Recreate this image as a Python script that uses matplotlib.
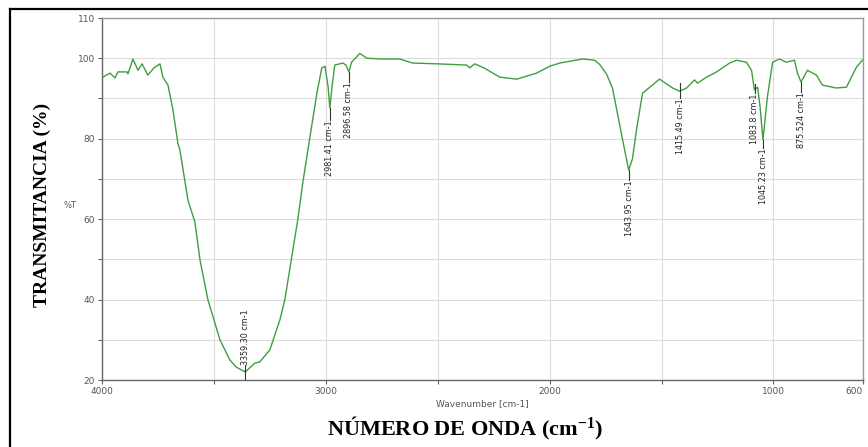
import matplotlib
matplotlib.use("Agg")
import matplotlib.pyplot as plt
from matplotlib.lines import Line2D

plt.rcParams['mathtext.fontset'] = 'custom'
plt.rcParams['mathtext.rm'] = 'Liberation Serif:bold'
plt.rcParams['mathtext.bf'] = 'Liberation Serif:bold'
plt.rcParams['mathtext.default'] = 'bf'

# Spectrum (wavenumber cm-1, %T)
wavenumber = [3996, 3964, 3942, 3929, 3888, 3884, 3862, 3839, 3821, 3795, 3768, 3741, 3728,
              3705, 3683, 3661, 3652, 3616, 3585, 3562, 3527, 3473, 3429, 3400, 3360, 3317,
              3295, 3250, 3205, 3183, 3125, 3103, 3071, 3040, 3018, 3004, 2990, 2982, 2972,
              2960, 2924, 2910, 2897, 2885, 2848, 2817, 2750, 2670, 2612, 2500, 2371, 2357,
              2335, 2290, 2223, 2147, 2058, 2000, 1955, 1853, 1800, 1777, 1745, 1719, 1674,
              1647, 1630, 1612, 1585, 1509, 1451, 1420, 1388, 1353, 1339, 1299, 1254, 1196,
              1165, 1121, 1098, 1085, 1071, 1060, 1047, 1027, 1004, 973, 942, 906, 893, 877,
              848, 808, 781, 719, 674, 629, 603]
transmittance = [95.3, 96.3, 95.1, 96.6, 96.6, 96.1, 99.8, 97.0, 98.6, 95.8, 97.6, 98.6, 95.3,
                 93.3, 87.1, 78.9, 77.2, 64.7, 59.3, 49.8, 40.0, 30.0, 25.0, 23.2, 22.0, 24.2,
                 24.5, 27.5, 35.0, 40.0, 60.0, 69.0, 80.4, 91.3, 97.6, 98.0, 93.0, 87.6, 93.0,
                 98.3, 98.8, 98.3, 96.6, 99.0, 101.2, 100.0, 99.8, 99.8, 98.8, 98.6, 98.3, 97.6,
                 98.6, 97.5, 95.3, 94.8, 96.3, 98.0, 98.8, 99.8, 99.5, 98.5, 96.0, 92.5, 79.7,
                 72.2, 75.0, 82.2, 91.3, 94.8, 92.6, 91.8, 92.6, 94.6, 93.8, 95.3, 96.6, 98.8,
                 99.5, 99.0, 97.0, 92.1, 92.8, 88.0, 79.7, 90.4, 99.0, 99.8, 99.0, 99.5, 96.3, 94.1,
                 97.0, 95.8, 93.3, 92.6, 92.8, 97.8, 99.5]

# Peak annotations
peak_wn = [3359.30, 2981.41, 2896.58, 1643.95, 1415.49, 1083.8, 1045.23, 875.524]
peak_T = [22.0, 87.6, 96.6, 72.2, 93.8, 93.5, 79.7, 94.1]
peak_text_T = [23.8, 84.6, 94.1, 69.7, 90.1, 91.3, 77.7, 91.6]
peak_labels = ["3359.30 cm-1", "2981.41 cm-1", "2896.58 cm-1", "1643.95 cm-1",
               "1415.49 cm-1", "1083.8 cm-1", "1045.23 cm-1", "875.524 cm-1"]

x_ticks = [4000, 3500, 3000, 2500, 2000, 1500, 1000, 600]
x_ticklabels = ["4000", "", "3000", "", "2000", "", "1000", "600"]
y_ticks = [20, 30, 40, 50, 60, 70, 80, 90, 100, 110]
y_ticklabels = ["20", "", "40", "", "60", "", "80", "", "100", "110"]

fig = plt.figure(figsize=(8.68, 4.47), dpi=100)
ax = fig.add_axes([102/868, 1-380/447, (863-102)/868, (380-18)/447])

ax.plot(wavenumber, transmittance, color='#3f9e3f', lw=1.0, zorder=3)
ax.set_xlim(4000, 600)
ax.set_ylim(20, 110)
ax.set_xticks(x_ticks)
ax.set_xticklabels(x_ticklabels)
ax.set_yticks(y_ticks)
ax.set_yticklabels(y_ticklabels)
ax.grid(True, color='#dcdcdc', lw=0.8, zorder=0)
ax.tick_params(axis='both', labelsize=6.5, labelcolor='#555555', color='#666666', length=3, width=0.8, pad=2)
for lbl in ax.get_xticklabels():
    if lbl.get_text() == "600":
        lbl.set_horizontalalignment('right')
for side, sp in ax.spines.items():
    sp.set_color('#666666' if side in ('left', 'bottom') else '#999999')
    sp.set_linewidth(1.0)

for wn, pt, tt, lab in zip(peak_wn, peak_T, peak_text_T, peak_labels):
    if tt > pt:
        ax.plot([wn, wn], [20, tt], color='#333333', lw=0.8, zorder=4)
        ax.text(wn, tt, lab, rotation=90, ha='center', va='bottom', fontsize=5.8, color='#222222', zorder=5)
    else:
        ax.plot([wn, wn], [pt, tt], color='#333333', lw=0.8, zorder=4)
        ax.text(wn, tt, lab, rotation=90, ha='center', va='top', fontsize=5.8, color='#222222', zorder=5)

fig.text(482/868, 1-404/447, "Wavenumber [cm-1]", ha='center', va='center', fontsize=6.5, color='#555555')
fig.text(70/868, 1-205/447, "%T", ha='center', va='center', fontsize=6, color='#555555')
fig.text(465/868, 1-428/447, r"NÚMERO DE ONDA (cm$^{-1}$)", ha='center', va='center',
         fontsize=16, fontweight='bold', family='Liberation Serif')
fig.text(42/868, 1-205/447, "TRANSMITANCIA (%)", ha='center', va='center', rotation=90,
         fontsize=14, fontweight='bold', family='Liberation Serif')

# outer border
fig.add_artist(Line2D([10/868, 10/868], [0, 1-9/447], transform=fig.transFigure, color='black', lw=1.6))
fig.add_artist(Line2D([10/868, 1], [1-9/447, 1-9/447], transform=fig.transFigure, color='black', lw=1.6))

fig.savefig("out.png", dpi=100)
